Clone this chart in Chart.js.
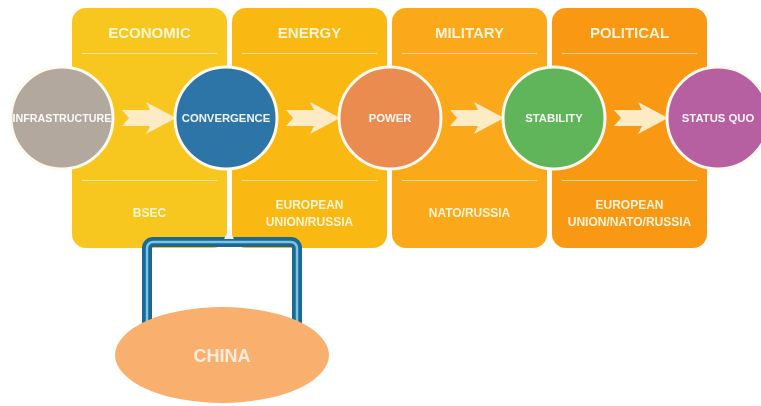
<!DOCTYPE html>
<html>
<head>
<meta charset="utf-8">
<script src="https://cdn.jsdelivr.net/npm/chart.js@4.4.0/dist/chart.umd.min.js"></script>
<style>
html, body { margin: 0; padding: 0; background: #fff; }
#wrap { width: 761px; height: 406px; position: relative; }
</style>
</head>
<body>
<div id="wrap"><canvas id="flow"></canvas></div>
<script>
// stages of the flow, left to right
const nodeLabels = ["INFRASTRUCTURE", "CONVERGENCE", "POWER", "STABILITY", "STATUS QUO"];
const nodeColors = ["#B3A89E", "#2D74A7", "#EA8C50", "#60B45A", "#B660A1"];

// one panel between each pair of stages
const panelTitles = ["ECONOMIC", "ENERGY", "MILITARY", "POLITICAL"];
const panelMembers = [["BSEC"], ["EUROPEAN", "UNION/RUSSIA"], ["NATO/RUSSIA"], ["EUROPEAN", "UNION/NATO/RUSSIA"]];
const panelColors = ["#F8C71F", "#FAB812", "#FBA81A", "#F99913"];

// outside actor hanging under a stage
const outsideLabel = "CHINA";
const outsideStage = 1;

const FONT = '"Liberation Sans", Arial, sans-serif';

const diagram = {
  id: 'diagram',
  beforeDatasetsDraw(chart) {
    const { ctx, scales: { x, y } } = chart;
    const cy = y.getPixelForValue(0);
    ctx.save();
    ctx.textAlign = 'center';
    ctx.textBaseline = 'middle';

    // panels
    panelTitles.forEach((t, i) => {
      const l = x.getPixelForValue(i) + 10 - 4 * i;
      const w = 155;
      const top = 8, bot = 248;
      ctx.fillStyle = panelColors[i];
      ctx.beginPath();
      ctx.roundRect(l, top, w, bot - top, 14);
      ctx.fill();

      ctx.strokeStyle = 'rgba(255,255,255,0.55)';
      ctx.lineWidth = 1;
      [53, 180].forEach(yy => {
        ctx.beginPath();
        ctx.moveTo(l + 10, yy + 0.5);
        ctx.lineTo(l + w - 10, yy + 0.5);
        ctx.stroke();
      });

      ctx.fillStyle = 'rgba(255,250,228,0.93)';
      ctx.font = 'bold 15px ' + FONT;
      ctx.fillText(t, l + w / 2, 34);
      ctx.font = 'bold 12px ' + FONT;
      const m = panelMembers[i];
      m.forEach((s, k) => ctx.fillText(s, l + w / 2, 214 + (k - (m.length - 1) / 2) * 17));
    });

    // arrows between stages
    ctx.fillStyle = '#FCEBC4';
    for (let i = 0; i < nodeLabels.length - 1; i++) {
      const x0 = x.getPixelForValue(i) + 60;
      const x1 = x.getPixelForValue(i + 1) - 50;
      const hb = x1 - 26;
      ctx.beginPath();
      ctx.moveTo(x0, cy - 8);
      ctx.lineTo(hb, cy - 8);
      ctx.lineTo(hb - 4, cy - 16);
      ctx.lineTo(x1, cy);
      ctx.lineTo(hb - 4, cy + 16);
      ctx.lineTo(hb, cy + 8);
      ctx.lineTo(x0, cy + 8);
      ctx.lineTo(x0 + 7, cy);
      ctx.closePath();
      ctx.fill();
    }

    // frame linking the outside actor
    const fx = x.getPixelForValue(outsideStage);
    const fl = fx - 79, fr = fx + 71, ft = 242, fb = 326;
    const framePath = () => {
      ctx.beginPath();
      ctx.moveTo(fl, fb);
      ctx.lineTo(fl, ft + 6);
      ctx.arcTo(fl, ft, fl + 6, ft, 6);
      ctx.lineTo(fr - 6, ft);
      ctx.arcTo(fr, ft, fr, ft + 6, 6);
      ctx.lineTo(fr, fb);
    };
    ctx.lineJoin = 'round';
    framePath();
    ctx.strokeStyle = '#1C6895';
    ctx.lineWidth = 10;
    ctx.stroke();
    framePath();
    ctx.strokeStyle = '#7CC4E6';
    ctx.lineWidth = 2.5;
    ctx.stroke();

    // small notch
    ctx.fillStyle = '#EAF6FB';
    ctx.beginPath();
    ctx.moveTo(fx - 2, 239);
    ctx.lineTo(fx + 8, 239);
    ctx.lineTo(fx + 3, 230);
    ctx.closePath();
    ctx.fill();

    // outside actor ellipse
    ctx.fillStyle = '#F9AF6E';
    ctx.beginPath();
    ctx.ellipse(fx - 4, 355, 107, 48, 0, 0, Math.PI * 2);
    ctx.fill();
    ctx.fillStyle = 'rgba(255,240,226,0.95)';
    ctx.font = 'bold 18px ' + FONT;
    ctx.fillText(outsideLabel, fx - 4, 357);
    ctx.restore();
  },
  afterDatasetsDraw(chart) {
    const { ctx } = chart;
    const meta = chart.getDatasetMeta(0);
    ctx.save();
    ctx.textAlign = 'center';
    ctx.textBaseline = 'middle';
    ctx.fillStyle = 'rgba(255,255,255,0.93)';
    ctx.font = 'bold 11.3px ' + FONT;
    meta.data.forEach((pt, i) => {
      ctx.fillText(nodeLabels[i], pt.x, pt.y + 1, 99);
    });
    ctx.restore();
  }
};

new Chart('flow', {
  type: 'scatter',
  data: {
    datasets: [{
      data: nodeLabels.map((_, i) => ({ x: i, y: 0 })),
      backgroundColor: nodeColors,
      borderColor: '#FFF9EE',
      borderWidth: 3,
      pointRadius: 51,
      pointHoverRadius: 51,
      clip: false
    }]
  },
  options: {
    responsive: true,
    maintainAspectRatio: false,
    animation: false,
    events: [],
    layout: { padding: 0, autoPadding: false },
    plugins: {
      legend: { display: false },
      tooltip: { enabled: false }
    },
    scales: {
      x: { type: 'linear', min: -62 / 164, max: (761 - 62) / 164, display: false },
      y: { type: 'linear', min: -288, max: 118, display: false }
    }
  },
  plugins: [diagram]
});
</script>
</body>
</html>
